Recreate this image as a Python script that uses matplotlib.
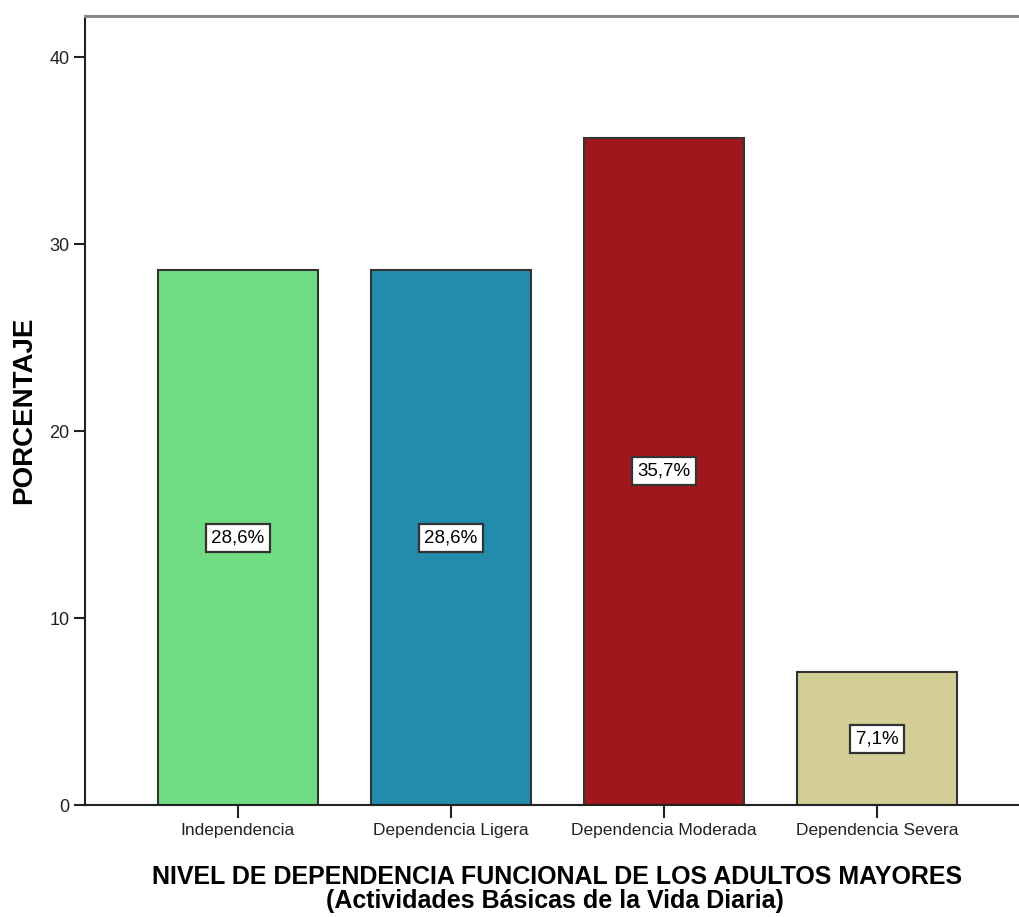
import matplotlib
matplotlib.use('Agg')
import matplotlib.pyplot as plt

plt.rcParams['font.family'] = ['Liberation Sans', 'DejaVu Sans']

niveles = ['Independencia', 'Dependencia Ligera', 'Dependencia Moderada', 'Dependencia Severa']
porcentajes = [28.6, 28.6, 35.7, 7.1]
colores = ['#70DC84', '#238BAC', '#A0161A', '#D3CE96']
y_ticks = [0, 10, 20, 30, 40]

fig = plt.figure(figsize=(10.2, 9.17), dpi=100)
ax = fig.add_axes([85 / 1020, 1 - 805 / 917, 945 / 1020, 789 / 917])

pos = list(range(len(niveles)))
ax.bar(pos, porcentajes, width=0.75, color=colores, edgecolor='#333333', linewidth=1.5, zorder=2)

# etiquetas de porcentaje a media altura de cada barra
for x, v in zip(pos, porcentajes):
    etiqueta = f'{v:.1f}'.replace('.', ',') + '%'
    ax.text(x, v / 2, etiqueta, ha='center', va='center', fontsize=13.5, zorder=3,
            bbox=dict(boxstyle='square,pad=0.3', facecolor='white', edgecolor='#333333', linewidth=1.6))

ax.set_xlim(-0.718, 3.718)
ax.set_ylim(0, 42.2)
ax.set_xticks(pos)
ax.set_xticklabels(niveles, fontsize=12.5)
ax.set_yticks(y_ticks)
ax.set_yticklabels([str(t) for t in y_ticks], fontsize=13)
ax.tick_params(axis='x', length=9, width=1.5, pad=4, colors='#222222')
ax.tick_params(axis='y', length=8, width=1.5, pad=3, colors='#222222')

ax.spines['right'].set_visible(False)
ax.spines['top'].set_color('#8a8a8a')
ax.spines['top'].set_linewidth(2.2)
for s in ['left', 'bottom']:
    ax.spines[s].set_color('#222222')
    ax.spines[s].set_linewidth(1.5)

fig.text(557 / 1020, 1 - 884 / 917, 'NIVEL DE DEPENDENCIA FUNCIONAL DE LOS ADULTOS MAYORES',
         ha='center', va='baseline', fontsize=18, fontweight='bold')
fig.text(555 / 1020, 1 - 908 / 917, '(Actividades Básicas de la Vida Diaria)',
         ha='center', va='baseline', fontsize=18, fontweight='bold')
fig.text(24 / 1020, 1 - 410 / 917, 'PORCENTAJE', rotation=90, ha='center', va='center',
         fontsize=20, fontweight='bold')

fig.savefig('out.png', dpi=100)
